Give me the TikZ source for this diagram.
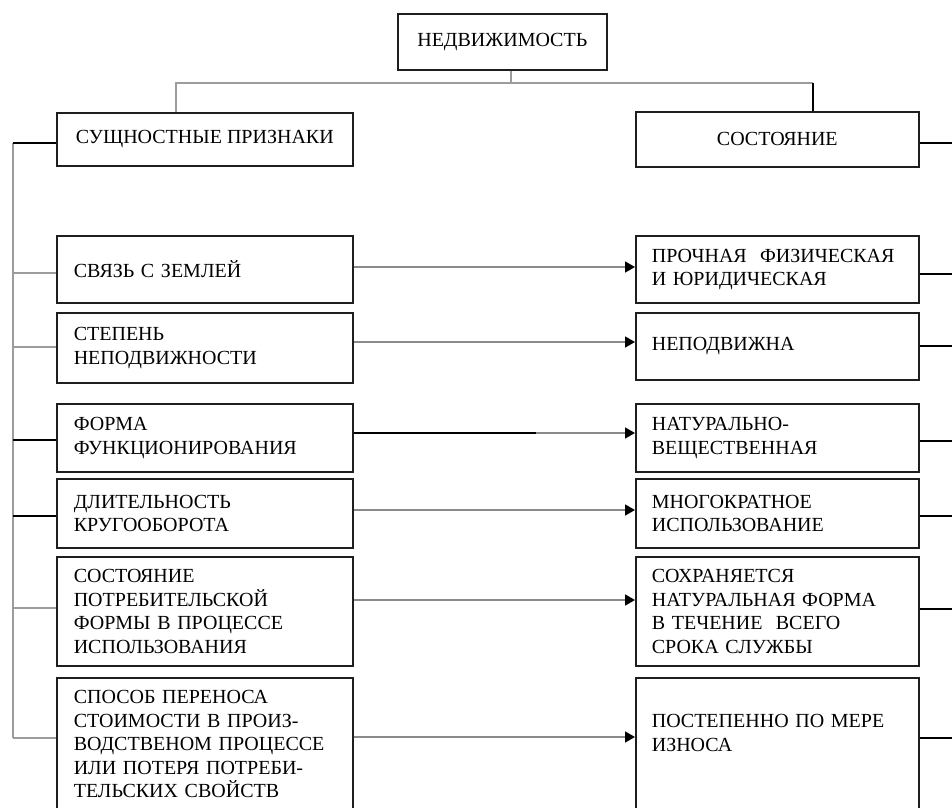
\documentclass[tikz,border=0pt]{standalone}
\usepackage{fontspec}
\setmainfont{Liberation Serif}
\usetikzlibrary{arrows.meta}
\definecolor{lgray}{HTML}{9C9C9C}
\definecolor{agray}{HTML}{8A8A8A}
\definecolor{boxline}{HTML}{1E1E1E}
\begin{document}
\begin{tikzpicture}[x=1pt,y=-1pt,
  box/.style={draw=boxline,line width=1.6pt,rectangle,anchor=north west,font=\fontsize{20}{23.5}\selectfont,inner ysep=2pt},
  lbox/.style={box,minimum width=296pt,text width=262pt,inner xsep=17pt,align=left},
  rbox/.style={box,minimum width=283pt,text width=251pt,inner xsep=16pt,align=left},
  cbox/.style={box,align=center},
  gline/.style={draw=lgray,line width=1.8pt},
  aline/.style={draw=agray,line width=1.6pt},
  bline/.style={draw=black,line width=1.4pt},
  arr/.style={-{Triangle[length=10pt,width=11pt,color=black]}}
]
\useasboundingbox (0,0) rectangle (952,807);
\clip (0,0) rectangle (952,807);

% top level
\node[cbox,minimum width=209pt,minimum height=56pt] (top) at (397,13) {НЕДВИЖИМОСТЬ};
\node[cbox,minimum width=296pt,minimum height=53pt] (ess) at (56,112) {СУЩНОСТНЫЕ ПРИЗНАКИ};
\node[cbox,minimum width=283pt,minimum height=55pt] (st) at (635,111) {СОСТОЯНИЕ};

% left column
\node[lbox,minimum height=67pt] (l1) at (56,235) {СВЯЗЬ С ЗЕМЛЕЙ};
\node[lbox,minimum height=70pt] (l2) at (56,312) {СТЕПЕНЬ\\НЕПОДВИЖНОСТИ};
\node[lbox,minimum height=68pt] (l3) at (56,403) {ФОРМА\\ФУНКЦИОНИРОВАНИЯ};
\node[lbox,minimum height=69pt] (l4) at (56,478) {ДЛИТЕЛЬНОСТЬ\\КРУГООБОРОТА};
\node[lbox,minimum height=109pt] (l5) at (56,556) {СОСТОЯНИЕ\\ПОТРЕБИТЕЛЬСКОЙ\\ФОРМЫ В ПРОЦЕССЕ\\ИСПОЛЬЗОВАНИЯ};
\node[lbox,minimum height=153pt] (l6) at (56,677) {СПОСОБ ПЕРЕНОСА\\СТОИМОСТИ В ПРОИЗ-\\ВОДСТВЕНОМ ПРОЦЕССЕ\\ИЛИ ПОТЕРЯ ПОТРЕБИ-\\ТЕЛЬСКИХ СВОЙСТВ\rule[-20pt]{0pt}{20pt}};

% right column
\node[rbox,minimum height=67pt] (r1) at (635,235) {ПРОЧНАЯ~ ФИЗИЧЕСКАЯ\\И ЮРИДИЧЕСКАЯ};
\node[rbox,minimum height=67pt] (r2) at (635,312) {НЕПОДВИЖНА};
\node[rbox,minimum height=68pt] (r3) at (635,403) {НАТУРАЛЬНО-\\ВЕЩЕСТВЕННАЯ};
\node[rbox,minimum height=69pt] (r4) at (635,478) {МНОГОКРАТНОЕ\\ИСПОЛЬЗОВАНИЕ};
\node[rbox,minimum height=109pt] (r5) at (635,556) {СОХРАНЯЕТСЯ\\НАТУРАЛЬНАЯ ФОРМА\\В ТЕЧЕНИЕ~ ВСЕГО\\СРОКА СЛУЖБЫ};
\node[rbox,minimum height=153pt] (r6) at (635,677) {ПОСТЕПЕННО ПО МЕРЕ\\ИЗНОСА\rule[-43pt]{0pt}{43pt}};

% top tree
\coordinate (bus) at (511,83);
\coordinate (rj) at (813,83);
\draw[gline] (top.south -| bus) -- (bus);
\draw[gline] (bus) -| ([xshift=-29pt]ess.north);
\draw[gline] (bus) -- (rj);
\draw[bline] (rj) -- (rj |- st.north);

% left bus
\coordinate (lb0) at (13,143);
\coordinate (lb1) at (13,273);
\coordinate (lb2) at (13,347);
\coordinate (lb3) at (13,440);
\coordinate (lb4) at (13,516);
\coordinate (lb5) at (13,608);
\coordinate (lb6) at (13,738);
\draw[gline] (lb0) -- (lb6);
\draw[bline] (lb0) -- (lb0 -| ess.west);
\draw[gline] (lb1) -- (lb1 -| l1.west);
\draw[gline] (lb2) -- (lb2 -| l2.west);
\draw[bline] (lb3) -- (lb3 -| l3.west);
\draw[bline] (lb4) -- (lb4 -| l4.west);
\draw[gline] (lb5) -- (lb5 -| l5.west);
\draw[gline] (lb6) -- (lb6 -| l6.west);

% arrows
\coordinate (a1) at (0,267);
\coordinate (a2) at (0,342);
\coordinate (a3) at (0,433);
\coordinate (a3m) at (536,433);
\coordinate (a4) at (0,510);
\coordinate (a5) at (0,600);
\coordinate (a6) at (0,737);
\draw[aline,arr] (l1.east |- a1) -- (r1.west |- a1);
\draw[aline,arr] (l2.east |- a2) -- (r2.west |- a2);
\draw[aline,arr] (l3.east |- a3) -- (r3.west |- a3);
\draw[bline] (l3.east |- a3) -- (a3m);
\draw[aline,arr] (l4.east |- a4) -- (r4.west |- a4);
\draw[aline,arr] (l5.east |- a5) -- (r5.west |- a5);
\draw[aline,arr] (l6.east |- a6) -- (r6.west |- a6);

% right stubs
\coordinate (rs0) at (952,143);
\coordinate (rs1) at (952,274);
\coordinate (rs2) at (952,346);
\coordinate (rs3) at (952,441);
\coordinate (rs4) at (952,516);
\coordinate (rs5) at (952,609);
\coordinate (rs6) at (952,738);
\draw[bline] (rs0 -| st.east) -- (rs0);
\draw[bline] (rs1 -| r1.east) -- (rs1);
\draw[bline] (rs2 -| r2.east) -- (rs2);
\draw[bline] (rs3 -| r3.east) -- (rs3);
\draw[bline] (rs4 -| r4.east) -- (rs4);
\draw[bline] (rs5 -| r5.east) -- (rs5);
\draw[bline] (rs6 -| r6.east) -- (rs6);
\end{tikzpicture}
\end{document}
